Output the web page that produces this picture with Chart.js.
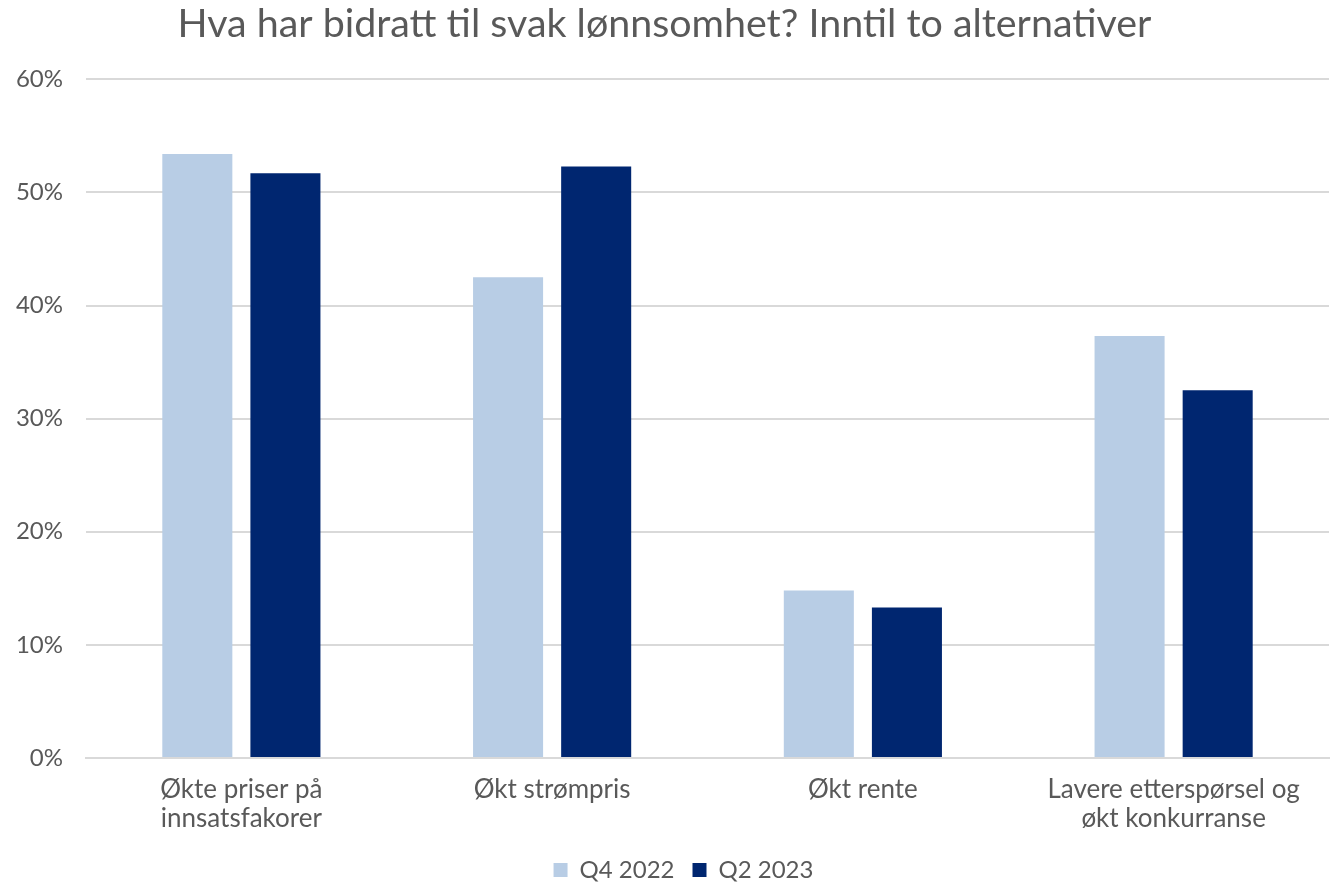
<!DOCTYPE html>
<html>
<head>
<meta charset="utf-8">
<script src="https://cdn.jsdelivr.net/npm/chart.js@4.4.0/dist/chart.umd.min.js"></script>
<style>
  html, body { margin: 0; padding: 0; background: #fff; }
  #wrap { width: 1330px; height: 885px; }
</style>
</head>
<body>
<div id="wrap"><canvas id="chart" width="1330" height="885"></canvas></div>
<script>
const categories = [
  ["Økte priser på", "innsatsfakorer"],
  "Økt strømpris",
  "Økt rente",
  ["Lavere etterspørsel og", "økt konkurranse"]
];
const seriesNames = ["Q4 2022", "Q2 2023"];
const q4_2022 = [53.4, 42.5, 14.8, 37.3];
const q2_2023 = [51.7, 52.3, 13.3, 32.5];
const yTicks = [0, 10, 20, 30, 40, 50, 60];

const textColor = "#595959";
const fontFamily = "Lato, 'Open Sans', sans-serif";

// legend sits a bit right of centre in the original
const legendShift = {
  id: "legendShift",
  afterLayout(chart) {
    chart.legend.left += 19;
    chart.legend.right += 19;
  }
};

new Chart(document.getElementById("chart"), {
  type: "bar",
  data: {
    labels: categories,
    datasets: [
      { label: seriesNames[0], data: q4_2022, backgroundColor: "#B8CDE5" },
      { label: seriesNames[1], data: q2_2023, backgroundColor: "#002670" }
    ]
  },
  options: {
    responsive: false,
    animation: false,
    datasets: { bar: { categoryPercentage: 0.567, barPercentage: 0.795 } },
    layout: { padding: { left: 0, right: 1, top: 0, bottom: -7 } },
    plugins: {
      title: {
        display: true,
        text: "Hva har bidratt til svak lønnsomhet? Inntil to alternativer",
        color: textColor,
        font: { family: fontFamily, size: 39.4, weight: "normal", lineHeight: 1.2 },
        padding: { top: 1, bottom: 31 }
      },
      legend: {
        position: "bottom",
        labels: {
          color: textColor,
          font: { family: fontFamily, size: 24 },
          boxWidth: 14,
          boxHeight: 14,
          padding: 18
        }
      },
      tooltip: { enabled: false }
    },
    scales: {
      x: {
        grid: { display: false, drawTicks: false },
        border: { color: "#D9D9D9", width: 2 },
        ticks: {
          color: textColor,
          font: { family: fontFamily, size: 26, lineHeight: 1.08 },
          padding: 18,
          maxRotation: 0,
          autoSkip: false
        },
        afterFit: s => { s.height = 82; }
      },
      y: {
        min: 0,
        max: 60,
        afterBuildTicks: s => { s.ticks = yTicks.map(v => ({ value: v })); },
        grid: { color: "#D9D9D9", lineWidth: 2, drawTicks: false },
        border: { display: false },
        ticks: {
          color: textColor,
          font: { family: fontFamily, size: 24 },
          padding: 23,
          callback: v => v + "%"
        },
        afterFit: s => { s.width = 86; }
      }
    }
  },
  plugins: [legendShift]
});
</script>
</body>
</html>
